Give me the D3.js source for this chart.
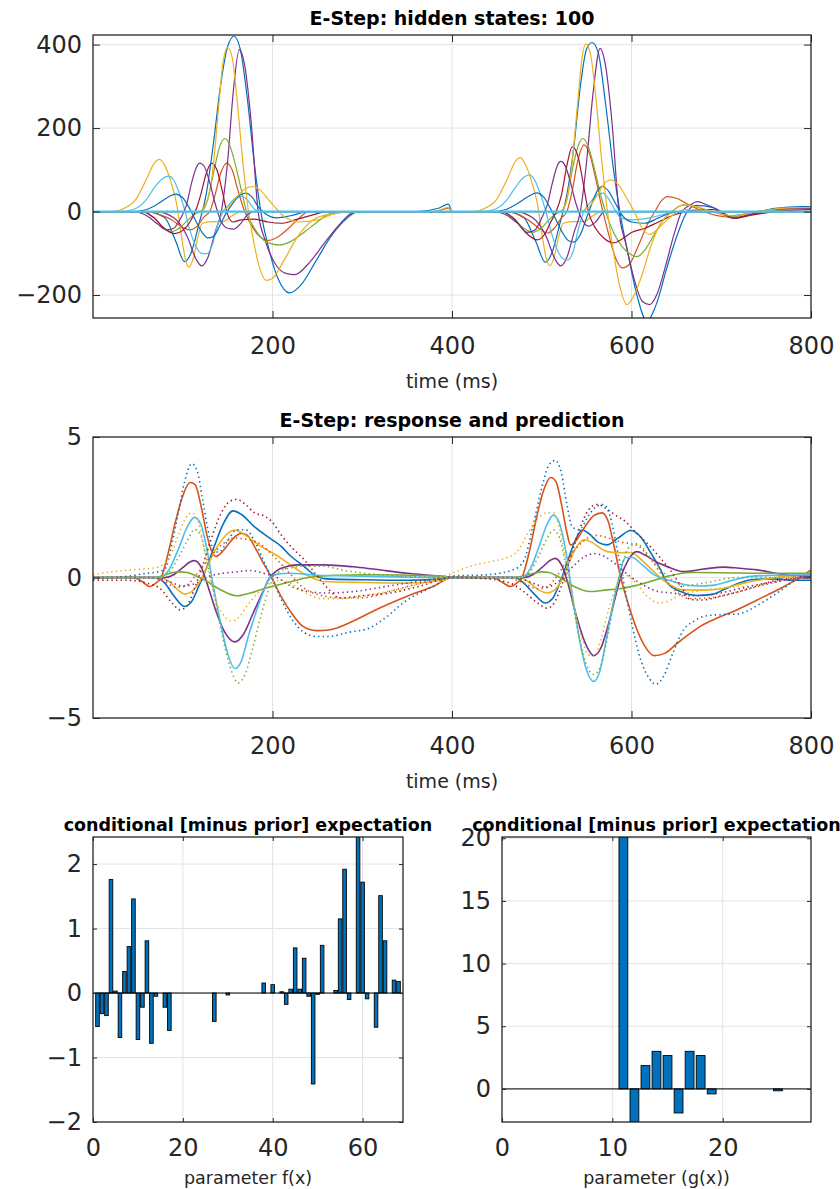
<!DOCTYPE html>
<html>
<head>
<meta charset="utf-8">
<script src="https://cdn.jsdelivr.net/npm/d3@7"></script>
<style>
  html, body { margin: 0; padding: 0; background: #fff; }
  svg { display: block; font-family: "DejaVu Sans", "Liberation Sans", sans-serif; }
</style>
</head>
<body>
<svg id="fig" width="840" height="1189"></svg>
<script>
// ---------- palette (MATLAB default line colours) ----------
const PALETTE = {
  blue: "#0072BD", orange: "#D95319", yellow: "#EDB120", purple: "#7E2F8E",
  green: "#77AC30", lightblue: "#4DBEEE", darkred: "#A2142F"
};

// ---------- hidden states: [time (ms), value] ----------
const stateBlueLarge = [[0,0],[60,0],[80,-15],[92,-70],[102,-120],[110,-95],[118,-30],[126,40],[134,160],[142,300],[150,395],[157,420],[164,390],[172,270],[180,110],[187,0],[196,-90],[206,-160],[219,-195],[232,-175],[248,-120],[265,-60],[282,-18],[295,0],[360,0],[385,8],[396,18],[400,0],
  [460,0],[480,-15],[493,-70],[504,-121],[512,-95],[520,-30],[528,40],[536,160],[543,300],[550,390],[556,405],[563,380],[571,260],[580,100],[587,0],[596,-100],[606,-200],[617,-262],[628,-220],[640,-130],[652,-50],[662,0],[672,15],[690,10],[710,-10],[730,-5],[760,8],[790,12],[800,12]];
const statePurpleLarge = [[0,0],[70,0],[90,-15],[105,-60],[115,-115],[121,-130],[128,-110],[136,-50],[143,0],[150,120],[156,280],[163,388],[169,350],[176,220],[184,0],[192,-70],[203,-125],[215,-148],[225,-151],[240,-125],[258,-75],[275,-30],[292,0],[400,0],
  [470,0],[490,-15],[505,-60],[515,-115],[521,-130],[528,-110],[536,-50],[543,0],[550,120],[557,280],[565,391],[571,350],[578,220],[586,0],[594,-80],[604,-170],[612,-215],[620,-223],[628,-200],[638,-130],[648,-50],[656,0],[665,15],[673,24],[685,15],[700,0],[714,-16],[730,-8],[760,5],[800,8]];
const stateYellowLarge = [[0,0],[118,0],[126,20],[133,90],[140,250],[145,360],[150,393],[155,370],[160,280],[166,140],[172,20],[178,-60],[185,-130],[193,-165],[200,-160],[212,-120],[228,-60],[245,-20],[260,-8],[290,0],[380,0],[396,10],[400,0],
  [520,0],[527,20],[533,100],[540,260],[545,370],[549,401],[554,380],[560,280],[566,140],[572,20],[578,-70],[586,-170],[595,-223],[603,-200],[612,-150],[622,-80],[632,-30],[645,0],[658,16],[672,12],[690,0],[714,-10],[740,0],[770,8],[800,10]];
const stateYellowEarly = [[0,0],[22,0],[35,8],[48,30],[60,80],[68,115],[74,125],[80,110],[87,70],[93,20],[98,-50],[103,-115],[107,-133],[112,-110],[117,-60],[122,-28],[132,-24],[145,-24],[155,-10],[165,0],[400,0],
  [424,0],[437,8],[450,30],[462,80],[470,118],[476,129],[482,112],[489,70],[495,20],[500,-50],[505,-112],[509,-130],[514,-108],[519,-60],[524,-28],[534,-24],[547,-24],[557,-10],[567,0],[800,0]];
const stateYellowBroad = [[0,0],[140,0],[150,10],[160,35],[170,55],[178,60],[186,52],[195,30],[205,5],[215,-15],[230,-25],[250,-20],[270,-5],[290,0],[400,0],
  [540,0],[552,10],[562,40],[570,68],[577,76],[585,65],[594,35],[603,0],[612,-40],[620,-55],[630,-40],[645,-10],[660,5],[700,0],[800,0]];
const stateLightblueEarly = [[0,0],[30,0],[45,5],[58,25],[70,62],[78,80],[84,85],[90,75],[96,45],[102,5],[108,-45],[115,-85],[121,-100],[127,-101],[133,-80],[139,-30],[145,0],[152,18],[160,34],[166,36],[172,28],[178,10],[185,0],[400,0],
  [432,0],[447,5],[460,25],[472,62],[480,82],[486,88],[492,76],[498,45],[504,5],[510,-45],[517,-90],[523,-112],[529,-116],[535,-95],[541,-40],[547,0],[554,22],[562,40],[568,44],[574,32],[580,10],[588,-15],[600,-20],[620,-15],[640,-5],[660,0],[800,0]];
const stateBlueSmall = [[0,0],[45,0],[60,5],[72,18],[84,35],[92,42],[100,33],[107,10],[114,-20],[121,-48],[128,-63],[134,-60],[141,-35],[148,-5],[155,18],[163,38],[170,44],[177,35],[184,12],[192,-5],[205,-15],[220,-10],[240,0],[400,0],
  [445,0],[460,5],[472,18],[485,36],[494,45],[502,35],[509,10],[516,-20],[523,-50],[530,-70],[536,-73],[543,-55],[550,-15],[556,20],[562,50],[567,60],[574,50],[582,20],[590,-10],[600,-25],[615,-28],[630,-15],[650,0],[800,0]];
const statePurpleEarly = [[0,0],[45,0],[60,-10],[72,-30],[82,-44],[90,-40],[98,-15],[104,15],[110,70],[115,105],[119,116],[124,108],[130,70],[136,20],[142,-20],[150,-40],[157,-42],[164,-30],[172,-8],[180,0],[400,0],
  [447,0],[462,-10],[474,-30],[484,-50],[492,-45],[500,-15],[506,15],[512,70],[517,108],[521,120],[526,110],[532,70],[538,20],[544,-15],[552,-35],[560,-25],[570,0],[800,0]];
const stateGreen = [[0,0],[55,0],[68,-15],[80,-40],[88,-48],[96,-40],[106,-20],[114,-5],[121,0],[128,30],[135,100],[141,155],[147,175],[153,155],[160,100],[166,45],[171,0],[180,-40],[190,-68],[200,-78],[208,-80],[220,-72],[235,-50],[250,-25],[264,-5],[280,0],[400,0],
  [455,0],[468,-15],[480,-40],[490,-50],[498,-42],[508,-20],[516,-5],[522,0],[528,30],[535,110],[541,160],[546,175],[552,155],[559,100],[565,45],[571,0],[580,-50],[590,-85],[600,-104],[606,-108],[614,-95],[624,-60],[634,-25],[645,0],[658,16],[670,12],[690,0],[714,-12],[740,0],[800,5]];
const stateDarkred = [[0,0],[55,0],[68,-15],[80,-42],[91,-53],[100,-45],[108,-25],[114,0],[120,40],[126,90],[132,116],[138,100],[144,50],[149,0],[156,-25],[165,-20],[180,-18],[195,-25],[210,-28],[225,-20],[245,-8],[260,0],[400,0],
  [455,0],[468,-15],[482,-50],[495,-68],[503,-55],[510,-25],[516,0],[522,40],[528,110],[534,155],[540,135],[546,70],[552,0],[560,-40],[570,-65],[580,-75],[590,-65],[600,-50],[615,-40],[630,-25],[645,-10],[660,0],[690,5],[714,-16],[735,-8],[760,0],[800,5]];
const stateOrange = [[0,0],[60,0],[75,-8],[88,-20],[100,-38],[108,-44],[116,-35],[124,-12],[130,0],[136,40],[142,90],[149,116],[155,100],[161,55],[169,0],[177,-35],[186,-60],[195,-69],[205,-62],[218,-40],[230,-15],[240,0],[380,0],[396,8],[400,0],
  [460,0],[475,-8],[488,-25],[500,-45],[506,-52],[514,-40],[522,-15],[528,0],[534,50],[540,120],[547,160],[553,140],[560,80],[567,10],[574,-50],[582,-110],[590,-135],[598,-125],[608,-80],[618,-30],[626,0],[633,25],[640,36],[650,32],[665,15],[680,0],[714,-14],[740,-5],[770,5],[800,8]];
const stateLightblueFlat = [[0,0],[400,0],[800,0]];

// ---------- responses (solid) and predictions (dotted) ----------
const respBlue = [[0,0],[70,0],[80,-0.2],[90,-0.65],[102,-1.03],[110,-0.85],[118,-0.3],[126,0.3],[135,1.1],[145,1.9],[156,2.37],[165,2.25],[180,1.8],[197,1.4],[210,1.1],[219,0.8],[235,0.4],[249,0.04],[260,-0.05],[300,-0.08],[350,-0.1],[390,-0.05],[400,0],
  [470,0],[480,-0.2],[492,-0.6],[504,-0.91],[512,-0.75],[520,-0.2],[528,0.5],[537,1.3],[545,1.69],[553,1.55],[563,1.25],[573,1.16],[585,1.4],[599,1.67],[610,1.45],[622,0.85],[632,0.3],[640,-0.2],[655,-0.5],[673,-0.64],[690,-0.6],[705,-0.4],[720,-0.2],[733,-0.08],[760,-0.05],[780,-0.1],[800,-0.1]];
const respOrange = [[0,0],[44,0],[55,-0.15],[63,-0.32],[70,-0.2],[76,0],[84,0.9],[92,2.0],[100,2.9],[108,3.38],[114,3.3],[120,2.6],[127,1.5],[132,0.95],[137,0.75],[145,0.95],[155,1.35],[165,1.57],[172,1.5],[180,1.1],[190,0.5],[199,0],[210,-0.7],[222,-1.3],[234,-1.74],[249,-1.89],[264,-1.86],[290,-1.55],[312,-1.2],[350,-0.67],[380,-0.3],[400,0],
  [445,0],[455,-0.15],[465,-0.32],[472,-0.2],[478,0],[486,0.9],[494,2.1],[502,3.1],[510,3.56],[516,3.4],[522,2.6],[528,1.6],[532,1.16],[538,1.3],[548,1.8],[558,2.2],[567,2.3],[574,2.0],[580,1.2],[588,0],[596,-0.9],[606,-1.85],[615,-2.45],[625,-2.78],[637,-2.7],[651,-2.34],[665,-2.0],[677,-1.73],[695,-1.45],[714,-1.2],[740,-0.8],[770,-0.32],[790,0.05],[800,0.27]];
const respYellow = [[0,0],[75,0],[85,-0.15],[95,-0.45],[102,-0.59],[110,-0.5],[118,-0.2],[126,0.3],[135,0.9],[145,1.4],[158,1.69],[170,1.5],[185,1.15],[204,0.8],[220,0.45],[234,0.15],[247,-0.05],[257,-0.14],[300,-0.18],[350,-0.2],[390,-0.1],[400,0],
  [475,0],[485,-0.15],[497,-0.45],[506,-0.55],[514,-0.45],[522,-0.1],[530,0.5],[539,1.1],[547,1.34],[556,1.25],[565,1.05],[573,0.92],[585,0.88],[599,0.89],[612,0.6],[625,0.2],[640,-0.2],[658,-0.44],[680,-0.45],[700,-0.4],[725,-0.2],[750,-0.05],[770,0.04],[800,0.1]];
const respPurple = [[0,0],[80,0],[90,0.1],[100,0.35],[108,0.55],[113,0.6],[120,0.4],[128,-0.3],[136,-1.1],[146,-1.9],[158,-2.29],[168,-2.0],[178,-1.3],[188,-0.6],[197,0],[205,0.25],[215,0.38],[227,0.45],[257,0.45],[290,0.38],[312,0.3],[350,0.15],[385,0.05],[400,0],
  [480,0],[490,0.1],[500,0.35],[510,0.62],[515,0.68],[522,0.45],[530,-0.3],[538,-1.3],[548,-2.3],[558,-2.78],[566,-2.5],[574,-1.7],[582,-0.7],[588,0],[596,0.6],[606,0.92],[615,0.8],[628,0.55],[640,0.39],[658,0.21],[680,0.3],[703,0.37],[720,0.33],[740,0.27],[770,0.1],[800,0.04]];
const respGreen = [[0,0],[70,0],[80,0.1],[95,0.2],[105,0.18],[115,0.05],[125,-0.1],[140,-0.4],[160,-0.65],[175,-0.55],[197,-0.34],[220,-0.15],[240,0],[270,0.08],[300,0.1],[390,0.05],[400,0],
  [470,0],[485,0.1],[500,0.2],[508,0.18],[520,0],[535,-0.3],[554,-0.5],[570,-0.45],[591,-0.38],[615,-0.2],[640,0.04],[666,0.18],[700,0.17],[750,0.15],[800,0.15]];
const respLightblue = [[0,0],[75,0],[85,0.3],[95,1.0],[105,1.8],[113,2.14],[120,1.9],[127,1.0],[134,-0.3],[142,-1.6],[150,-2.7],[158,-3.24],[165,-3.0],[173,-2.1],[182,-1.2],[190,-0.5],[197,0],[205,0.12],[219,0.15],[250,0.08],[300,0.05],[400,0],
  [477,0],[487,0.3],[497,1.1],[506,1.9],[513,2.22],[520,1.9],[527,0.9],[534,-0.6],[542,-2.2],[550,-3.3],[558,-3.7],[565,-3.3],[572,-2.2],[579,-1.0],[586,0],[593,0.7],[600,0.72],[612,0.45],[625,0.1],[640,-0.08],[655,-0.22],[673,-0.3],[690,-0.28],[710,-0.12],[733,0.04],[760,0.08],[800,0.1]];

const predDarkred = [[0,-0.1],[40,-0.1],[60,-0.2],[75,-0.4],[88,-0.9],[97,-1.15],[105,-1.0],[113,-0.4],[122,0.4],[132,1.4],[143,2.3],[152,2.7],[160,2.78],[170,2.6],[180,2.3],[190,2.2],[199,2.0],[210,1.5],[222,1.05],[234,0.68],[250,0.05],[262,-0.4],[275,-0.73],[300,-0.65],[331,-0.55],[365,-0.3],[400,0],
  [440,-0.05],[465,-0.2],[480,-0.5],[495,-0.9],[506,-1.09],[514,-0.9],[522,-0.3],[532,0.7],[542,1.7],[552,2.4],[562,2.6],[572,2.45],[583,2.2],[593,2.0],[605,1.6],[621,1.1],[632,0.7],[643,0.27],[655,-0.3],[666,-0.79],[680,-0.8],[700,-0.65],[720,-0.5],[740,-0.3],[770,-0.05],[800,0]];
const predBlue = [[0,-0.05],[40,0.05],[60,0.15],[72,0.2],[80,0.3],[88,1.2],[95,2.3],[102,3.4],[110,4.05],[116,3.8],[122,2.8],[128,1.7],[134,1.0],[140,0.9],[150,1.3],[160,1.7],[170,1.7],[180,1.3],[190,0.6],[199,0],[210,-0.8],[222,-1.5],[235,-1.95],[249,-2.1],[262,-2.1],[285,-1.95],[308,-1.8],[323,-1.5],[350,-0.8],[380,-0.3],[400,0.05],
  [440,0.1],[470,0.3],[480,0.6],[490,1.8],[500,3.2],[508,4.0],[515,4.17],[522,3.7],[528,2.6],[534,1.8],[542,1.7],[552,2.2],[562,2.55],[569,2.6],[576,2.2],[584,1.0],[592,-0.3],[600,-1.6],[610,-2.9],[620,-3.6],[627,-3.8],[636,-3.5],[646,-2.7],[658,-1.86],[670,-1.55],[681,-1.38],[700,-1.32],[718,-1.3],[740,-1.0],[760,-0.6],[790,0],[800,0.05]];
const predOrange = [[0,0],[60,0],[80,-0.15],[93,-0.35],[103,-0.3],[115,0.1],[130,0.7],[145,1.2],[157,1.4],[172,1.35],[186,1.2],[200,0.8],[215,0.3],[232,-0.3],[250,-0.6],[275,-0.72],[300,-0.72],[330,-0.5],[365,-0.2],[400,0],
  [460,0],[480,-0.2],[495,-0.4],[505,-0.35],[518,0.1],[532,0.8],[547,1.3],[560,1.5],[575,1.4],[590,1.25],[606,1.15],[620,0.7],[636,0],[650,-0.5],[665,-0.75],[690,-0.72],[720,-0.5],[750,-0.25],[780,-0.05],[800,0]];
const predYellow = [[0,0.1],[20,0.2],[45,0.28],[70,0.35],[85,0.7],[95,1.5],[103,2.1],[110,2.3],[117,2.0],[124,1.0],[130,0],[138,-0.9],[147,-1.4],[155,-1.55],[163,-1.4],[172,-1.0],[182,-0.6],[195,-0.25],[210,-0.1],[225,-0.3],[240,-0.6],[255,-0.75],[280,-0.75],[310,-0.6],[350,-0.35],[400,0.15],
  [420,0.4],[440,0.55],[460,0.7],[472,0.9],[485,1.6],[496,2.1],[506,2.3],[513,2.3],[520,1.7],[528,0.4],[536,-1.0],[544,-2.1],[552,-2.75],[558,-2.8],[566,-2.2],[574,-1.2],[582,-0.4],[592,0.1],[605,-0.2],[617,-0.65],[629,-0.9],[640,-0.85],[651,-0.67],[670,-0.5],[700,-0.38],[730,-0.3],[760,-0.15],[790,0.1],[800,0.2]];
const predPurple = [[0,0],[70,0],[85,-0.15],[100,-0.3],[115,-0.2],[130,0.05],[145,0.15],[160,0.2],[175,0.25],[190,0.15],[205,0],[220,-0.3],[240,-0.5],[260,-0.55],[290,-0.5],[330,-0.3],[370,-0.1],[400,0],
  [470,0],[490,-0.2],[505,-0.35],[520,-0.1],[535,0.4],[548,0.75],[558,0.85],[570,0.75],[585,0.4],[600,0],[615,-0.3],[630,-0.5],[645,-0.55],[666,-0.65],[690,-0.6],[720,-0.4],[750,-0.2],[780,-0.05],[800,0]];
const predGreen = [[0,0],[75,0],[85,0.2],[95,0.7],[105,1.3],[113,1.71],[120,1.5],[127,0.6],[135,-0.6],[143,-1.9],[152,-3.1],[162,-3.75],[170,-3.4],[178,-2.5],[186,-1.5],[195,-0.5],[203,0.1],[215,0.3],[235,0.4],[256,0.4],[280,0.25],[320,0.1],[400,0],
  [477,0],[487,0.2],[497,0.8],[506,1.4],[513,1.69],[520,1.4],[527,0.4],[535,-1.0],[543,-2.3],[551,-3.2],[558,-3.45],[566,-3.1],[574,-2.0],[582,-0.6],[590,0.5],[598,1.1],[606,1.2],[620,0.75],[635,0.2],[648,-0.15],[658,-0.3],[680,-0.2],[720,0],[800,0]];

// ---------- parameter estimates ----------
const fxParams = d3.range(1, 69);
const fxValues = [-0.52,-0.32,-0.35,1.76,0.03,-0.69,0.335,0.72,1.46,-0.72,-0.22,0.81,-0.78,-0.05,0,-0.22,-0.58,0,0,0,
  0,0,0,0,0,0,-0.44,0,0,-0.03,0,0,0,0,0,0,0,0.155,0,0.13,
  0,0.02,-0.175,0.06,0.70,0.06,0.54,-0.05,-1.41,-0.02,0.74,0,0,0.04,1.15,1.92,-0.1,0,2.42,1.72,
  -0.09,0,-0.53,1.51,0.81,0,0.2,0.18];
const gxParams = d3.range(1, 28);
const gxValues = [0,0,0,0,0,0,0,0,0,0,20.1,-2.64,1.86,3.0,2.66,-1.92,3.0,2.66,-0.4,0,0,0,0,0,-0.15,0,0];

// tick labels
const timeTicks = [200, 400, 600, 800];
const stateTicks = [-200, 0, 200, 400];
const responseTicks = [-5, 0, 5];
const fxXTicks = [0, 20, 40, 60];
const fxYTicks = [-2, -1, 0, 1, 2];
const gxXTicks = [0, 10, 20];
const gxYTicks = [0, 5, 10, 15, 20];

// ---------- drawing ----------
const svg = d3.select("#fig");
const AXIS = "#262626", GRID = "#e3e3e3";
const TICK_FONT = 24;
let clipId = 0;

function frame(box, x, y, xt, yt) {
  const g = svg.append("g");
  const w = box.x1 - box.x0, h = box.y1 - box.y0;
  const grid = g.append("g").attr("stroke", GRID).attr("stroke-width", 1);
  xt.forEach(v => { const px = x(v); if (px > box.x0 + 1 && px < box.x1 - 1)
    grid.append("line").attr("x1", px).attr("x2", px).attr("y1", box.y0).attr("y2", box.y1); });
  yt.forEach(v => { const py = y(v); if (py > box.y0 + 1 && py < box.y1 - 1)
    grid.append("line").attr("x1", box.x0).attr("x2", box.x1).attr("y1", py).attr("y2", py); });
  const id = "clip" + (clipId++);
  svg.append("clipPath").attr("id", id).append("rect")
    .attr("x", box.x0).attr("y", box.y0).attr("width", w).attr("height", h);
  const plot = g.append("g").attr("clip-path", `url(#${id})`);
  return { g, plot };
}

function axesOn(g, box, x, y, xt, yt, opts) {
  const tl = opts.tickLen;
  const styleAxis = sel => {
    sel.select(".domain").remove();
    sel.selectAll(".tick line").attr("stroke", AXIS).attr("stroke-width", 1);
    sel.selectAll(".tick text").attr("fill", "#262626").attr("font-size", TICK_FONT)
      .attr("font-family", "DejaVu Sans, sans-serif");
  };
  g.append("g").attr("transform", `translate(0,${box.y1})`)
    .call(d3.axisBottom(x).tickValues(xt).tickSize(-tl).tickPadding(opts.xPad).tickFormat(d3.format("d")))
    .call(styleAxis);
  g.append("g").attr("transform", `translate(0,${box.y0})`)
    .call(d3.axisTop(x).tickValues(xt).tickSize(-tl).tickFormat(""))
    .call(styleAxis);
  g.append("g").attr("transform", `translate(${box.x0},0)`)
    .call(d3.axisLeft(y).tickValues(yt).tickSize(-tl).tickPadding(opts.yPad).tickFormat(d3.format("d")))
    .call(styleAxis);
  g.append("g").attr("transform", `translate(${box.x1},0)`)
    .call(d3.axisRight(y).tickValues(yt).tickSize(-tl).tickFormat(""))
    .call(styleAxis);
  g.append("rect").attr("x", box.x0).attr("y", box.y0)
    .attr("width", box.x1 - box.x0).attr("height", box.y1 - box.y0)
    .attr("fill", "none").attr("stroke", AXIS).attr("stroke-width", 1.3);
  const cx = (box.x0 + box.x1) / 2;
  g.append("text").attr("x", cx).attr("y", box.y0 - opts.titleGap)
    .attr("text-anchor", "middle").attr("font-weight", "bold")
    .attr("font-size", opts.titleSize).attr("fill", "#000").text(opts.title);
  g.append("text").attr("x", cx).attr("y", box.y1 + opts.labelGap)
    .attr("text-anchor", "middle").attr("font-size", opts.labelSize)
    .attr("fill", "#262626").text(opts.xlabel);
}

function linePanel(box, yDomain, yt, series, opts) {
  const x = d3.scaleLinear().domain([0, 800]).range([box.x0, box.x1]);
  const y = d3.scaleLinear().domain(yDomain).range([box.y1, box.y0]);
  const { g, plot } = frame(box, x, y, timeTicks, yt);
  const line = d3.line().x(d => x(d[0])).y(d => y(d[1])).curve(d3.curveMonotoneX);
  series.forEach(s => {
    plot.append("path").datum(s.data).attr("d", line)
      .attr("fill", "none").attr("stroke", PALETTE[s.color])
      .attr("stroke-width", s.width || 1.2)
      .attr("stroke-dasharray", s.dotted ? "1.4 3.2" : null)
      .attr("stroke-linejoin", "round");
  });
  axesOn(g, box, x, y, timeTicks, yt, opts);
}

function barPanel(box, xDomain, yDomain, cats, vals, xt, yt, opts) {
  const x = d3.scaleLinear().domain(xDomain).range([box.x0, box.x1]);
  const y = d3.scaleLinear().domain(yDomain).range([box.y1, box.y0]);
  const { g, plot } = frame(box, x, y, xt, yt);
  const bw = x(0.8) - x(0);
  plot.selectAll("rect.bar").data(cats.map((c, i) => [c, vals[i]]).filter(d => d[1] !== 0))
    .join("rect").attr("class", "bar")
    .attr("x", d => x(d[0]) - bw / 2).attr("width", bw)
    .attr("y", d => y(Math.max(0, d[1])))
    .attr("height", d => Math.abs(y(d[1]) - y(0)))
    .attr("fill", PALETTE.blue).attr("stroke", "#000").attr("stroke-width", 0.9);
  plot.append("line").attr("x1", box.x0).attr("x2", box.x1)
    .attr("y1", y(0)).attr("y2", y(0)).attr("stroke", "#000").attr("stroke-width", 1);
  axesOn(g, box, x, y, xt, yt, opts);
}

// hidden states
linePanel({ x0: 93, x1: 811, y0: 35, y1: 318 }, [-255, 423], stateTicks, [
  { data: stateBlueLarge, color: "blue" },
  { data: stateOrange, color: "orange" },
  { data: stateYellowEarly, color: "yellow" },
  { data: statePurpleLarge, color: "purple" },
  { data: stateGreen, color: "green" },
  { data: stateLightblueEarly, color: "lightblue" },
  { data: stateDarkred, color: "darkred" },
  { data: stateBlueSmall, color: "blue" },
  { data: stateYellowLarge, color: "yellow" },
  { data: statePurpleEarly, color: "purple" },
  { data: stateYellowBroad, color: "yellow" },
  { data: stateLightblueFlat, color: "lightblue", width: 2.2 }
], { tickLen: 7, xPad: 19, yPad: 11, titleGap: 10, labelGap: 70, titleSize: 19, labelSize: 19,
     title: "E-Step: hidden states: 100", xlabel: "time (ms)" });

// response and prediction
linePanel({ x0: 93, x1: 811, y0: 437, y1: 718 }, [-5, 5], responseTicks, [
  { data: respBlue, color: "blue", width: 1.6 },
  { data: respOrange, color: "orange", width: 1.6 },
  { data: respYellow, color: "yellow", width: 1.6 },
  { data: respPurple, color: "purple", width: 1.6 },
  { data: respGreen, color: "green", width: 1.6 },
  { data: respLightblue, color: "lightblue", width: 1.6 },
  { data: predDarkred, color: "darkred", dotted: true, width: 1.6 },
  { data: predBlue, color: "blue", dotted: true, width: 1.6 },
  { data: predOrange, color: "orange", dotted: true, width: 1.6 },
  { data: predYellow, color: "yellow", dotted: true, width: 1.6 },
  { data: predPurple, color: "purple", dotted: true, width: 1.6 },
  { data: predGreen, color: "green", dotted: true, width: 1.6 }
], { tickLen: 7, xPad: 19, yPad: 11, titleGap: 10, labelGap: 70, titleSize: 19, labelSize: 19,
     title: "E-Step: response and prediction", xlabel: "time (ms)" });

// parameter estimates
barPanel({ x0: 93, x1: 403, y0: 837, y1: 1122 }, [0, 69], [-2, 2.42], fxParams, fxValues, fxXTicks, fxYTicks,
  { tickLen: 4, xPad: 17, yPad: 11, titleGap: 6, labelGap: 62, titleSize: 17.5, labelSize: 17.5,
    title: "conditional [minus prior] expectation", xlabel: "parameter f(x)" });
barPanel({ x0: 502, x1: 811, y0: 837, y1: 1122 }, [0, 28], [-2.64, 20.1], gxParams, gxValues, gxXTicks, gxYTicks,
  { tickLen: 4, xPad: 17, yPad: 11, titleGap: 6, labelGap: 62, titleSize: 17.5, labelSize: 17.5,
    title: "conditional [minus prior] expectation", xlabel: "parameter (g(x))" });
</script>
</body>
</html>
